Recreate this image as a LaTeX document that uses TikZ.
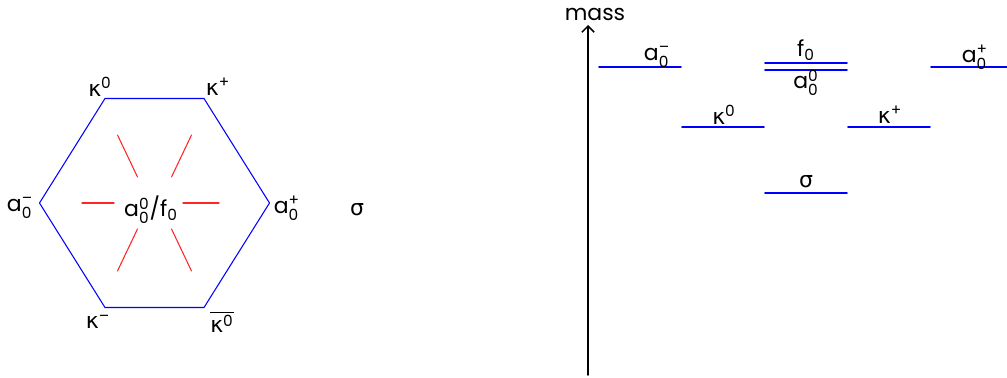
\documentclass[tikz,border=0pt]{standalone}
\usepackage{amsmath}
\usepackage{fontspec}
\setmainfont{Poppins}
\newfontfamily\greekfont{DejaVu Sans}
\usetikzlibrary{arrows.meta,calc}
\newcommand{\gk}[1]{{\greekfont #1}}
\newcommand{\mes}[3]{$\text{#1}^{\text{#2}}_{\text{#3}}$}

\begin{document}
\begin{tikzpicture}[
    >={Straight Barb[length=3.5pt,width=7pt]},
    line cap=round,
    font=\fontsize{12.5}{14}\selectfont,
    hexline/.style={blue, line width=0.6pt},
    spoke/.style={red!85, line width=0.6pt},
    level/.style={blue, line width=1.1pt},
    tag/.style={inner sep=0pt}
]
\useasboundingbox (0,0) rectangle (20.14,7.56);

% Parameters
\def\hx{0.99}
\def\hy{2.09}
\def\hr{2.30}

% Octet centre and corners
\coordinate (M) at (3.09,3.50);
\coordinate (TL) at ($(M)+(-\hx,\hy)$);
\coordinate (TR) at ($(M)+(\hx,\hy)$);
\coordinate (R)  at ($(M)+(\hr,0)$);
\coordinate (BR) at ($(M)+(\hx,-\hy)$);
\coordinate (BL) at ($(M)+(-\hx,-\hy)$);
\coordinate (L)  at ($(M)+(-\hr,0)$);

% Hexagon
\draw[hexline] (TL) -- (TR) -- (R) -- (BR) -- (BL) -- (L) -- cycle;

% Spokes round the centre
\draw[spoke] ($(M)+(-1.45,0)$) -- ($(M)+(-0.81,0)$);
\draw[spoke] ($(M)+(0.57,0)$) -- ($(M)+(1.29,0)$);
\foreach \s in {1,-1}
    \foreach \t in {1,-1}
        \draw[spoke] ($(M)+(\s*0.34,\t*0.52)$) -- ($(M)+(\s*0.74,\t*1.36)$);

% Corner labels
\node[tag] (k0)  at (2.00,5.82) {\gk{κ}$^{\text{0}}$};
\node[tag] (kp)  at (4.36,5.82) {\gk{κ}$^{\text{+}}$};
\node[tag] (am)  at (0.40,3.40) {\mes{a}{–}{0}};
\node[tag] (ap)  at (5.74,3.40) {\mes{a}{+}{0}};
\node[tag] (km)  at (1.96,1.12) {\gk{κ}$^{\text{–}}$};
\node[tag] (kb)  at (4.44,1.12) {$\overline{\text{\gk{κ}}^{\text{0}}}$};
\node[tag] (mid) at (3.02,3.36) {\mes{a}{0}{0}/f$_{\text{0}}$};
\node[tag] (sg)  at (7.14,3.36) {\gk{σ}};

% Mass axis
\coordinate (A0) at (11.76,0.06);
\coordinate (A1) at (11.76,7.06);
\draw[->, line width=0.9pt] (A0) -- (A1);
\node[tag] (mass) at (11.90,7.28) {mass};

% Levels
\coordinate (l1a) at (11.98,6.22); \coordinate (l1b) at (13.62,6.22);
\coordinate (l2a) at (15.30,6.30); \coordinate (l2b) at (16.94,6.30);
\coordinate (l3a) at (15.30,6.16); \coordinate (l3b) at (16.94,6.16);
\coordinate (l4a) at (18.62,6.22); \coordinate (l4b) at (20.14,6.22);
\coordinate (l5a) at (13.64,5.02); \coordinate (l5b) at (15.28,5.02);
\coordinate (l6a) at (16.96,5.02); \coordinate (l6b) at (18.60,5.02);
\coordinate (l7a) at (15.30,3.70); \coordinate (l7b) at (16.94,3.70);

\foreach \i in {1,...,7}
    \draw[level] (l\i a) -- (l\i b);

% Level labels
\node[tag] (Lam) at (13.14,6.42) {\mes{a}{–}{0}};
\node[tag] (Lf)  at (16.12,6.56) {f$_{\text{0}}$};
\node[tag] (La0) at (16.12,5.90) {\mes{a}{0}{0}};
\node[tag] (Lap) at (19.50,6.42) {\mes{a}{+}{0}};
\node[tag] (Lk0) at (14.48,5.26) {\gk{κ}$^{\text{0}}$};
\node[tag] (Lkp) at (17.80,5.26) {\gk{κ}$^{\text{+}}$};
\node[tag] (Ls)  at (16.12,3.92) {\gk{σ}};

\end{tikzpicture}
\end{document}
